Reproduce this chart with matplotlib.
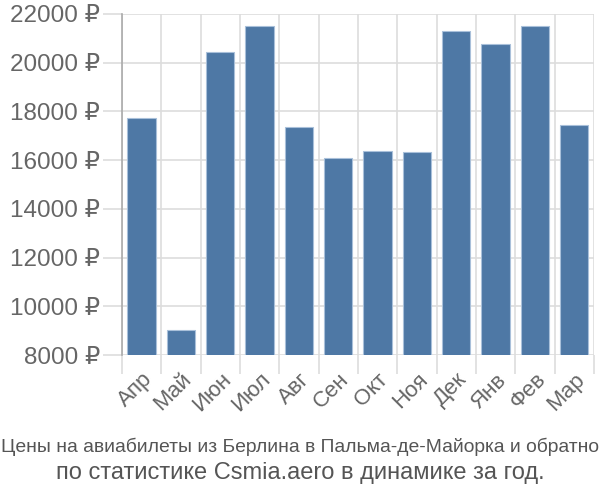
import matplotlib
matplotlib.use("Agg")
import matplotlib.pyplot as plt
import numpy as np

MONTHS = ["Апр", "Май", "Июн", "Июл", "Авг", "Сен", "Окт", "Ноя", "Дек", "Янв", "Фев", "Мар"]
PRICES = [17730, 9040, 20450, 21490, 17360, 16090, 16380, 16335, 21300, 20755, 21490, 17455]
Y_TICKS = list(range(8000, 22001, 2000))
TITLE_1 = "Цены на авиабилеты из Берлина в Пальма-де-Майорка и обратно"
TITLE_2 = "по статистике Csmia.aero в динамике за год."

plt.rcParams["font.family"] = ["Liberation Sans", "DejaVu Sans"]

fig = plt.figure(figsize=(6, 5), dpi=100)
ax = fig.add_axes([0.203, 0.29, 0.787, 0.682])

x = np.arange(len(MONTHS))
ax.bar(x, PRICES, width=0.72, color="#4e78a5", edgecolor="#a9c0da",
       linewidth=0.8, zorder=3)

ax.set_xlim(-0.5, len(MONTHS) - 0.5)
ax.set_ylim(8000, 22000)

# y axis
ax.set_yticks(Y_TICKS)
ax.set_yticklabels([f"{v} ₽" for v in Y_TICKS], fontsize=17.5, color="#666666")
ax.tick_params(axis="y", length=14, color="#dddddd", width=1.2, pad=1.5)

# x axis: labels at centres, tick marks at category boundaries
ax.set_xticks(x)
ax.set_xticklabels(MONTHS, rotation=45, ha="right", rotation_mode="anchor",
                   fontsize=16, color="#666666")
ax.tick_params(axis="x", which="major", length=0, pad=10)
ax.set_xticks(np.arange(-0.5, len(MONTHS)), minor=True)
ax.tick_params(axis="x", which="minor", length=14, color="#dddddd", width=1.2)

ax.grid(True, axis="y", color="#dddddd", linewidth=1.2, zorder=0)
ax.grid(True, axis="x", which="minor", color="#dddddd", linewidth=1.2, zorder=0)

for s in ["top", "right", "bottom"]:
    ax.spines[s].set_visible(False)
ax.spines["left"].set_color("#aaaaaa")
ax.spines["left"].set_linewidth(1.2)

fig.text(0.5, 0.106, TITLE_1, ha="center", va="center", fontsize=13.9,
         color="#555555")
fig.text(0.5, 0.054, TITLE_2, ha="center", va="center", fontsize=17,
         color="#555555")

fig.savefig("out.png", dpi=100)
